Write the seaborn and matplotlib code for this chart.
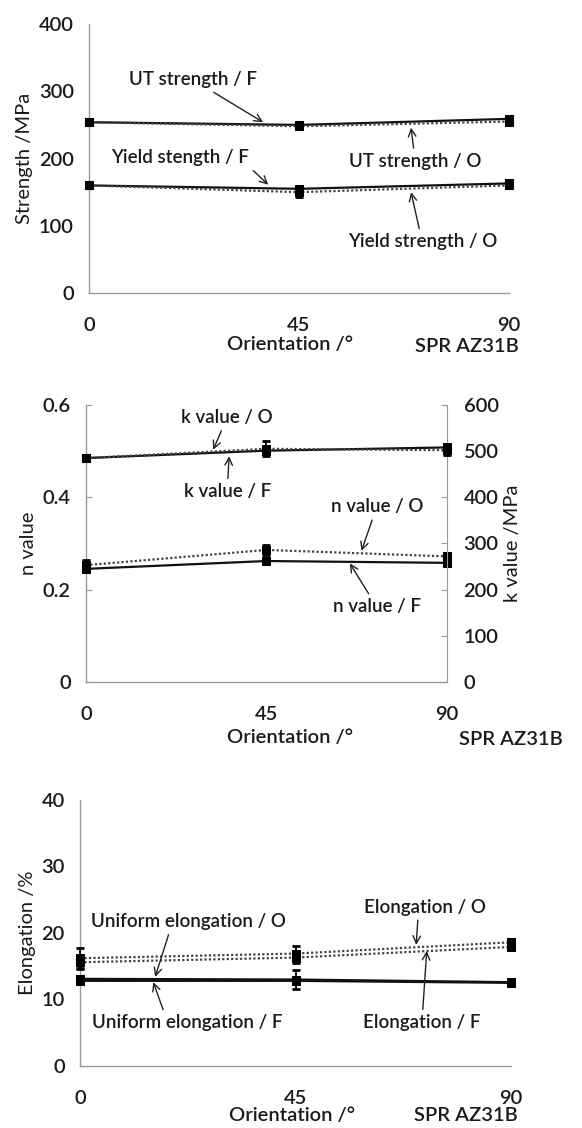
import numpy as np
import pandas as pd
import matplotlib
matplotlib.use('Agg')
import matplotlib.pyplot as plt
import seaborn as sns

sns.set_style('white')
plt.rcParams['font.family'] = ['Lato', 'DejaVu Sans']
plt.rcParams['font.weight'] = 'semibold'

# orientation of the specimens (deg)
orient = [0, 45, 90]

# strength, MPa  (F = solid, O = dotted)
uts_f = [254, 250, 259]
uts_o = [254, 248, 255]
ys_f = [160, 155, 163]
ys_o = [160, 150, 160]
uts_f_err = [3, 3, 4]
uts_o_err = [3, 3, 3]
ys_f_err = [4, 4, 3]
ys_o_err = [3, 7, 3]

# n value (left) and k value / MPa (right)
n_f = [0.245, 0.262, 0.258]
n_o = [0.253, 0.286, 0.272]
n_f_err = [0.006, 0.004, 0.006]
n_o_err = [0.012, 0.010, 0.008]
k_f = [485, 501, 508]
k_o = [485, 505, 502]
k_f_err = [4, 8, 8]
k_o_err = [4, 16, 10]

# elongation, %
el_o = [16.2, 16.9, 18.6]
el_f = [15.6, 16.3, 17.9]
uel_o = [13.1, 13.0, 12.6]
uel_f = [12.8, 12.8, 12.5]
el_o_err = [1.5, 1.1, 0.4]
el_f_err = [1.0, 0.8, 0.4]
uel_o_err = [0.5, 1.5, 0.3]
uel_f_err = [0.4, 0.5, 0.3]

TXT = '#1a1a1a'
SP = '#9a9a9a'
FS = 14.5
NS = 13.5


def series(ax, y, err, dotted):
    ls = (0, (1, 1)) if dotted else '-'
    col = '#444444' if dotted else '#111111'
    sns.lineplot(x=orient, y=y, ax=ax, color=col, linestyle=ls, linewidth=1.6,
                 marker='s', markersize=6, markeredgecolor='k', markerfacecolor='k',
                 clip_on=False, zorder=3)
    ax.errorbar(orient, y, yerr=err, fmt='none', ecolor='k', elinewidth=1.3,
                capsize=3, capthick=2, clip_on=False, zorder=4)


def style(ax, ylim, yticks, ylabel):
    ax.set_xlim(0, 90)
    ax.set_ylim(*ylim)
    ax.set_xticks(orient)
    ax.set_yticks(yticks)
    ax.set_yticklabels([f'{t:g}' for t in yticks])
    for s in ['top', 'right']:
        ax.spines[s].set_visible(False)
    for s in ['left', 'bottom']:
        ax.spines[s].set_color(SP)
        ax.spines[s].set_linewidth(1.0)
    ax.tick_params(axis='y', direction='in', length=4, color=SP, pad=11,
                   labelsize=FS, labelcolor=TXT)
    ax.tick_params(axis='x', direction='in', length=5, color=SP, pad=17,
                   labelsize=FS, labelcolor=TXT)
    ax.set_ylabel(ylabel, fontsize=FS, color=TXT, labelpad=4)
    ax.set_xlabel('')


def note(ax, text, xy, xytext, rel=(0.5, 0.5)):
    ax.annotate(text, xy=xy, xytext=xytext, ha='center', va='center',
                fontsize=NS, color=TXT,
                arrowprops=dict(arrowstyle='->', color='#222222', lw=1.0,
                                relpos=rel, shrinkA=1, shrinkB=0))


fig = plt.figure(figsize=(5.82, 11.28), dpi=100)

# ---- panel 1 : strength
ax1 = fig.add_axes([0.153, 0.7402, 0.7216, 0.2385])
series(ax1, uts_f, uts_f_err, False)
series(ax1, uts_o, uts_o_err, True)
series(ax1, ys_f, ys_f_err, False)
series(ax1, ys_o, ys_o_err, True)
style(ax1, (0, 400), [0, 100, 200, 300, 400], 'Strength /MPa')
note(ax1, 'UT strength / F', (37.3, 254), (22.3, 317))
note(ax1, 'Yield stength / F', (38.4, 161), (19.5, 201), rel=(0.96, 0.3))
note(ax1, 'UT strength / O', (69, 246), (69.9, 196))
note(ax1, 'Yield strength / O', (69, 150), (71.4, 76))
ax1.text(0.479, -0.193, 'Orientation /°', transform=ax1.transAxes,
         ha='center', va='center', fontsize=FS, color=TXT)
ax1.text(0.9, -0.197, 'SPR AZ31B', transform=ax1.transAxes,
         ha='center', va='center', fontsize=FS, color=TXT)

# ---- panel 2 : n and k values
ax2 = fig.add_axes([0.1478, 0.3954, 0.620, 0.2456])
series(ax2, n_f, n_f_err, False)
series(ax2, n_o, n_o_err, True)
style(ax2, (0, 0.6), [0, 0.2, 0.4, 0.6], 'n value')
ax2.set_yticklabels(['0', '0.2', '0.4', '0.6'])
ax2r = ax2.twinx()
series(ax2r, k_f, k_f_err, False)
series(ax2r, k_o, k_o_err, True)
ax2r.set_ylim(0, 600)
ax2r.set_yticks([0, 100, 200, 300, 400, 500, 600])
for s in ['top', 'left', 'bottom']:
    ax2r.spines[s].set_visible(False)
ax2r.spines['right'].set_color(SP)
ax2r.tick_params(axis='y', direction='in', length=4, color=SP, pad=12,
                 labelsize=FS, labelcolor=TXT)
ax2r.set_ylabel('k value /MPa', fontsize=FS, color=TXT, labelpad=4)
note(ax2, 'k value / O', (31.7, 0.503), (35.2, 0.572))
note(ax2, 'k value / F', (35.7, 0.489), (35.2, 0.412))
note(ax2, 'n value / O', (68.7, 0.284), (72.5, 0.379))
note(ax2, 'n value / F', (65.8, 0.257), (72.5, 0.163))
ax2.text(0.565, -0.202, 'Orientation /°', transform=ax2.transAxes,
         ha='center', va='center', fontsize=FS, color=TXT)
ax2.text(1.177, -0.209, 'SPR AZ31B', transform=ax2.transAxes,
         ha='center', va='center', fontsize=FS, color=TXT)

# ---- panel 3 : elongation
ax3 = fig.add_axes([0.1375, 0.055, 0.7405, 0.2358])
series(ax3, el_o, el_o_err, True)
series(ax3, el_f, el_f_err, True)
series(ax3, uel_o, uel_o_err, False)
series(ax3, uel_f, uel_f_err, False)
style(ax3, (0, 40), [0, 10, 20, 30, 40], 'Elongation /%')
note(ax3, 'Uniform elongation / O', (15.7, 13.4), (22.6, 21.7), rel=(0.42, 0.5))
note(ax3, 'Uniform elongation / F', (15.3, 12.6), (22.3, 6.5), rel=(0.4, 0.5))
note(ax3, 'Elongation / O', (70.2, 18.2), (72.0, 23.9), rel=(0.45, 0.5))
note(ax3, 'Elongation / F', (72.4, 17.3), (71.4, 6.5))
ax3.text(0.492, -0.188, 'Orientation /°', transform=ax3.transAxes,
         ha='center', va='center', fontsize=FS, color=TXT)
ax3.text(0.896, -0.188, 'SPR AZ31B', transform=ax3.transAxes,
         ha='center', va='center', fontsize=FS, color=TXT)

fig.savefig('out.png', dpi=100)
